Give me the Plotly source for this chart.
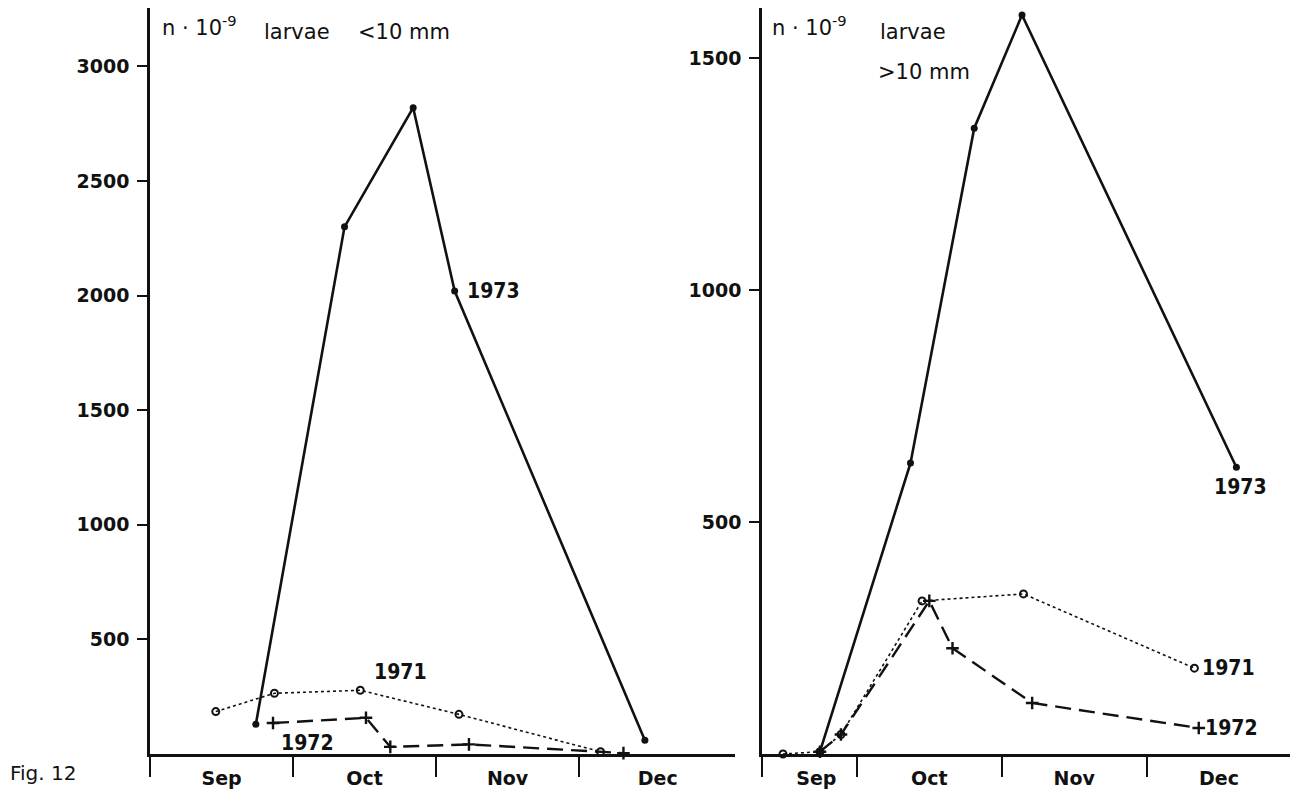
import plotly.graph_objects as go

W, H = 1305, 793

# ---------------- data (x in months after 1 Sep, y in n·10^-9) ----------------
month_labels = ["Sep", "Oct", "Nov", "Dec"]
left_label_pos = [0.5, 1.5, 2.5, 3.55]
right_label_pos = [0.72, 1.5, 2.5, 3.5]
left_bounds = [0, 1, 2, 3]
right_bounds = [0.345, 1, 2, 3]

left_yticks = [500, 1000, 1500, 2000, 2500, 3000]
right_yticks = [500, 1000, 1500]

# larvae < 10 mm
L1973_x = [0.74, 1.36, 1.84, 2.13, 3.46]
L1973_y = [130, 2300, 2820, 2020, 60]
L1971_x = [0.46, 0.87, 1.47, 2.16, 3.15]
L1971_y = [185, 265, 278, 173, 10]
L1972_x = [0.86, 1.51, 1.68, 2.23, 3.31]
L1972_y = [135, 158, 31, 42, 4]

# larvae > 10 mm
R1973_x = [0.745, 1.37, 1.81, 2.14, 3.62]
R1973_y = [5, 627, 1349, 1593, 618]
R1971_x = [0.49, 0.745, 0.89, 1.45, 2.15, 3.33]
R1971_y = [0, 5, 42, 330, 345, 185]
R1972_x = [0.745, 0.89, 1.50, 1.66, 2.21, 3.36]
R1972_y = [5, 42, 330, 228, 110, 56]

FONT = "DejaVu Sans"
NARROW = "Liberation Sans Narrow, DejaVu Sans Condensed, DejaVu Sans"
INK = "#111111"

fig = go.Figure()

def add_series(x, y, xa, ya, style):
    if style == "1973":
        line = dict(color=INK, width=2.6)
        marker = dict(symbol="circle", size=7, color=INK)
    elif style == "1971":
        line = dict(color=INK, width=1.6, dash="dot")
        marker = dict(symbol="circle-open", size=7, color=INK, line=dict(width=2, color=INK))
    else:
        line = dict(color=INK, width=2.4, dash="16px,8px")
        marker = dict(symbol="cross-thin", size=9, color=INK, line=dict(width=2.4, color=INK))
    fig.add_trace(go.Scatter(x=x, y=y, xaxis=xa, yaxis=ya, mode="lines+markers",
                             line=line, marker=marker, cliponaxis=False,
                             showlegend=False, hoverinfo="skip"))

add_series(L1971_x, L1971_y, "x", "y", "1971")
add_series(L1972_x, L1972_y, "x", "y", "1972")
add_series(L1973_x, L1973_y, "x", "y", "1973")
add_series(R1971_x, R1971_y, "x2", "y2", "1971")
add_series(R1972_x, R1972_y, "x2", "y2", "1972")
add_series(R1973_x, R1973_y, "x2", "y2", "1973")

def px(xp):
    return xp / W

def py(yp):
    return 1 - yp / H

ydom = [py(754), py(8)]

tickfont = dict(family=FONT, size=19, color=INK, weight="bold")

def xaxis(domain, rng, labelpos, bounds, anchor):
    return dict(domain=domain, range=rng, anchor=anchor,
                showline=True, linecolor=INK, linewidth=2.6,
                tickmode="array", tickvals=labelpos, ticktext=month_labels,
                ticks="", tickfont=tickfont, ticklabelstandoff=5,
                showgrid=False, zeroline=False,
                minor=dict(tickmode="array", tickvals=bounds, ticks="outside",
                           ticklen=20, tickwidth=2.4, tickcolor=INK, showgrid=False))

def yaxis(rng, ticks, anchor):
    return dict(domain=ydom, range=rng, anchor=anchor,
                showline=True, linecolor=INK, linewidth=2.6,
                tickmode="array", tickvals=ticks, ticks="outside",
                ticklen=10, tickwidth=2, tickcolor=INK, ticklabelstandoff=4,
                tickfont=tickfont, showgrid=False, zeroline=False)

fig.update_layout(
    width=W, height=H,
    margin=dict(l=0, r=0, t=0, b=0),
    paper_bgcolor="white", plot_bgcolor="white",
    xaxis=xaxis([px(150), px(735)], [0, 4.09], left_label_pos, left_bounds, "y"),
    yaxis=yaxis([0, 3255], left_yticks, "x"),
    xaxis2=xaxis([px(762), px(1290)], [0.345, 3.99], right_label_pos, right_bounds, "y2"),
    yaxis2=yaxis([0, 1608], right_yticks, "x2"),
)

lab = dict(family=NARROW, size=21, color=INK, weight="bold")
ann = []

# series labels anchored to data points
ann.append(dict(x=L1973_x[3], y=L1973_y[3], xref="x", yref="y", text="1973",
                showarrow=False, xanchor="left", yanchor="middle", xshift=10, font=lab))
ann.append(dict(x=L1971_x[2], y=L1971_y[2], xref="x", yref="y", text="1971",
                showarrow=False, xanchor="left", yanchor="bottom", xshift=12, yshift=4, font=lab))
ann.append(dict(x=L1972_x[0], y=L1972_y[0], xref="x", yref="y", text="1972",
                showarrow=False, xanchor="left", yanchor="top", xshift=6, yshift=-6, font=lab))
ann.append(dict(x=R1973_x[-1], y=R1973_y[-1], xref="x2", yref="y2", text="1973",
                showarrow=False, xanchor="center", yanchor="top", xshift=4, yshift=-6, font=lab))
ann.append(dict(x=R1971_x[-1], y=R1971_y[-1], xref="x2", yref="y2", text="1971",
                showarrow=False, xanchor="left", yanchor="middle", xshift=6, font=lab))
ann.append(dict(x=R1972_x[-1], y=R1972_y[-1], xref="x2", yref="y2", text="1972",
                showarrow=False, xanchor="left", yanchor="middle", xshift=4, font=lab))

# panel headings
head = dict(family=FONT, size=21, color=INK)
def note(text, xp, yp, font=head, xanchor="left"):
    ann.append(dict(x=px(xp), y=py(yp), xref="paper", yref="paper", text=text,
                    showarrow=False, xanchor=xanchor, yanchor="middle", font=font))

note("n · 10<sup>-9</sup>", 160, 26)
note("larvae", 262, 32)
note("&lt;10 mm", 356, 32)
note("n · 10<sup>-9</sup>", 770, 26)
note("larvae", 878, 32)
note("&gt;10 mm", 876, 72)
note("Fig. 12", 8, 773, font=dict(family=FONT, size=20, color=INK))

fig.update_layout(annotations=ann)

fig.write_html("out.html")
